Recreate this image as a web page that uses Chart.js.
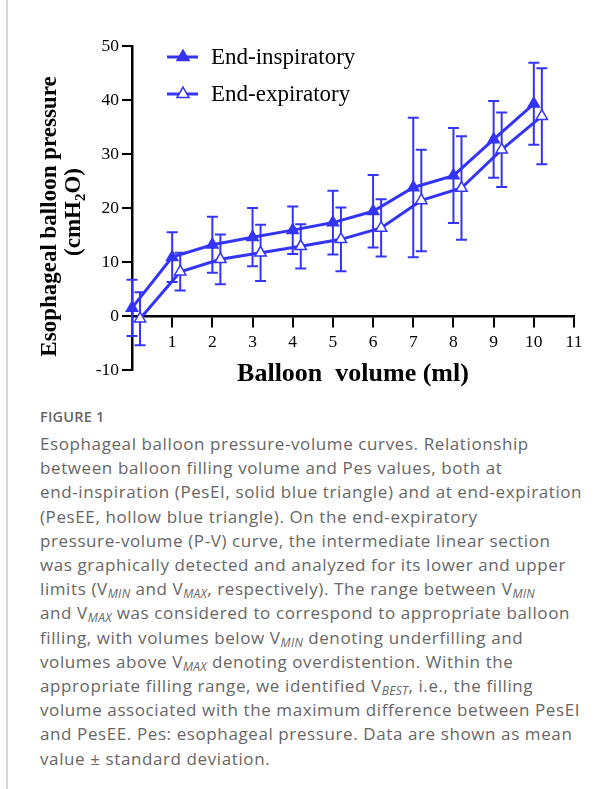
<!DOCTYPE html>
<html><head><meta charset="utf-8">
<script src="https://cdn.jsdelivr.net/npm/chart.js@4.4.1/dist/chart.umd.min.js"></script>
<style>
html,body{margin:0;padding:0;background:#fff;width:614px;height:789px;overflow:hidden;}
#wrap{position:relative;width:614px;height:789px;}
#bar{position:absolute;left:6px;top:0;width:2px;height:789px;background:#d6d6d6;}
#box{position:absolute;left:0;top:0;width:614px;height:395px;}
#cap{position:absolute;left:40px;top:407px;font-family:'Open Sans',sans-serif;color:#666;}
#fig{font-size:14.5px;font-weight:600;line-height:20px;color:#666;letter-spacing:0.2px;}
#txt{font-size:17px;line-height:24.2px;white-space:nowrap;margin-top:5px;letter-spacing:0.6px;}
#txt sub{font-size:12px;font-style:italic;vertical-align:-3px;line-height:0;letter-spacing:0.3px;}
</style></head>
<body>
<div id="wrap">
  <div id="bar"></div>
  <div id="box"><canvas id="c"></canvas></div>
  <div id="cap">
    <div id="fig">FIGURE 1</div>
    <div id="txt">Esophageal balloon pressure-volume curves. Relationship<br>between balloon filling volume and Pes values, both at<br>end-inspiration (PesEI, solid blue triangle) and at end-expiration<br>(PesEE, hollow blue triangle). On the end-expiratory<br>pressure-volume (P-V) curve, the intermediate linear section<br>was graphically detected and analyzed for its lower and upper<br>limits (V<sub>MIN</sub> and V<sub>MAX</sub>, respectively). The range between V<sub>MIN</sub><br>and V<sub>MAX</sub> was considered to correspond to appropriate balloon<br>filling, with volumes below V<sub>MIN</sub> denoting underfilling and<br>volumes above V<sub>MAX</sub> denoting overdistention. Within the<br>appropriate filling range, we identified V<sub>BEST</sub>, i.e., the filling<br>volume associated with the maximum difference between PesEI<br>and PesEE. Pes: esophageal pressure. Data are shown as mean<br>value &plusmn; standard deviation.</div>
  </div>
</div>
<script>
// ---- data ----
const volumes = [0, 1, 2, 3, 4, 5, 6, 7, 8, 9, 10];
const endInspMean = [1.5, 10.9, 13.2, 14.6, 15.9, 17.3, 19.4, 23.8, 26.0, 32.7, 39.3];
const endInspSD   = [5.2, 4.6, 5.2, 5.4, 4.4, 5.9, 6.7, 12.9, 8.8, 7.1, 7.6];
const endExpMean  = [-0.5, 8.2, 10.5, 11.7, 12.9, 14.2, 16.3, 21.4, 23.7, 30.8, 37.0];
const endExpSD    = [4.9, 3.5, 4.6, 5.2, 4.1, 5.9, 5.3, 9.4, 9.6, 6.9, 8.9];
const seriesLabels = ['End-inspiratory', 'End-expiratory'];
const xTickLabels = ['', '1', '2', '3', '4', '5', '6', '7', '8', '9', '10', '11'];
const yTickLabels = ['-10', '0', '10', '20', '30', '40', '50'];
const xTitle = 'Balloon  volume (ml)';
const yTitle = ['Esophageal balloon pressure', '(cmH', '2', 'O)'];

const BLUE = '#3434f6';
const expShift = 0.2; // horizontal nudge of end-expiratory points

const mk = (means, shift) => volumes.map((v, i) => ({x: v + shift, y: means[i]}));

const errorBars = {
  id: 'errorBars',
  beforeDatasetsDraw(chart) {
    const {ctx} = chart;
    const xs = chart.scales.x, ys = chart.scales.y;
    chart.data.datasets.forEach(ds => {
      ctx.save();
      ctx.strokeStyle = ds.borderColor;
      ctx.lineWidth = 2;
      ds.data.forEach((p, j) => {
        const sd = ds.sd[j];
        const px = xs.getPixelForValue(p.x);
        const yt = ys.getPixelForValue(p.y + sd);
        const yb = ys.getPixelForValue(p.y - sd);
        ctx.beginPath();
        ctx.moveTo(px, yt); ctx.lineTo(px, yb);
        ctx.moveTo(px - 5.5, yt); ctx.lineTo(px + 5.5, yt);
        ctx.moveTo(px - 5.5, yb); ctx.lineTo(px + 5.5, yb);
        ctx.stroke();
      });
      ctx.restore();
    });
  }
};

const annotations = {
  id: 'annotations',
  afterDraw(chart) {
    const {ctx} = chart;
    const area = chart.chartArea;
    ctx.save();
    ctx.fillStyle = '#000';
    // x title
    ctx.font = 'bold 26px "Liberation Serif"';
    ctx.textAlign = 'center';
    ctx.textBaseline = 'alphabetic';
    ctx.fillText(xTitle, (area.left + area.right) / 2, 381);
    // y title
    ctx.save();
    ctx.translate(55.5, 216.5);
    ctx.rotate(-Math.PI / 2);
    ctx.font = 'bold 23px "Liberation Serif"';
    ctx.textAlign = 'center';
    ctx.fillText(yTitle[0], 0, 0);
    ctx.restore();
    ctx.save();
    ctx.translate(80, 212);
    ctx.rotate(-Math.PI / 2);
    ctx.textAlign = 'left';
    const f1 = 'bold 23px "Liberation Serif"', f2 = 'bold 15px "Liberation Serif"';
    ctx.font = f1; const w1 = ctx.measureText(yTitle[1]).width, w3 = ctx.measureText(yTitle[3]).width;
    ctx.font = f2; const w2 = ctx.measureText(yTitle[2]).width;
    let sx = -(w1 + w2 + w3) / 2;
    ctx.font = f1; ctx.fillText(yTitle[1], sx, 0); sx += w1;
    ctx.font = f2; ctx.fillText(yTitle[2], sx, 5); sx += w2;
    ctx.font = f1; ctx.fillText(yTitle[3], sx, 0);
    ctx.restore();
    // legend
    const rows = [57, 94];
    chart.data.datasets.forEach((ds, i) => {
      const y = rows[i];
      ctx.strokeStyle = ds.borderColor;
      ctx.lineWidth = 3;
      ctx.beginPath(); ctx.moveTo(167, y); ctx.lineTo(198, y); ctx.stroke();
      ctx.fillStyle = ds.pointBackgroundColor;
      ctx.strokeStyle = ds.borderColor;
      ctx.lineWidth = 1.5;
      Chart.helpers.drawPoint(ctx, {pointStyle: 'triangle', radius: 7, borderWidth: 1.5}, 183, y);
      ctx.fillStyle = '#000';
      ctx.font = '23px "Liberation Serif"';
      ctx.textAlign = 'left';
      ctx.textBaseline = 'alphabetic';
      ctx.fillText(ds.label, 211, y + 7);
    });
    ctx.restore();
  }
};

const tickFont = {family: 'Liberation Serif', size: 17.5};

new Chart(document.getElementById('c'), {
  type: 'line',
  data: {
    datasets: [
      {label: seriesLabels[0], data: mk(endInspMean, 0), sd: endInspSD,
       borderColor: BLUE, backgroundColor: BLUE, borderWidth: 3,
       pointStyle: 'triangle', pointRadius: 6.5, pointBackgroundColor: BLUE,
       pointBorderColor: BLUE, pointBorderWidth: 1.5, clip: false, tension: 0},
      {label: seriesLabels[1], data: mk(endExpMean, expShift), sd: endExpSD,
       borderColor: BLUE, backgroundColor: '#fff', borderWidth: 3,
       pointStyle: 'triangle', pointRadius: 6.5, pointBackgroundColor: '#fff',
       pointBorderColor: BLUE, pointBorderWidth: 1.5, clip: false, tension: 0}
    ]
  },
  options: {
    responsive: true, maintainAspectRatio: false, animation: false,
    layout: {padding: {left: 0, right: 40, top: 46, bottom: 25}},
    plugins: {legend: {display: false}, tooltip: {enabled: false}},
    scales: {
      x: {type: 'linear', min: 0, max: 11, position: {y: 0},
          ticks: {stepSize: 1, autoSkip: false, maxRotation: 0, font: tickFont, color: '#000', padding: 6,
                  callback: (v, i) => xTickLabels[i]},
          grid: {drawOnChartArea: false, drawTicks: true, tickLength: 10, color: '#000', lineWidth: 2},
          border: {display: true, color: '#000', width: 2.5}},
      y: {type: 'linear', min: -10, max: 50, position: 'left',
          afterFit: s => { s.width = 132; },
          ticks: {stepSize: 10, font: tickFont, color: '#000', padding: 3,
                  callback: (v, i) => yTickLabels[i]},
          grid: {drawOnChartArea: false, drawTicks: true, tickLength: 10, color: '#000', lineWidth: 2},
          border: {display: true, color: '#000', width: 2.5}}
    }
  },
  plugins: [errorBars, annotations]
});
</script>
</body></html>
